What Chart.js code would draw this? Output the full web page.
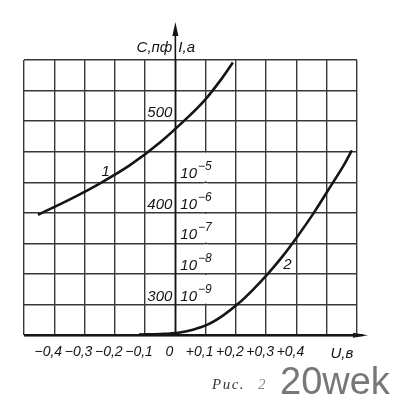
<!DOCTYPE html>
<html>
<head>
<meta charset="utf-8">
<script src="https://cdn.jsdelivr.net/npm/chart.js@4.4.0/dist/chart.umd.min.js"></script>
<style>
  html, body { margin: 0; padding: 0; background: #fff; }
  #wrap { width: 400px; height: 405px; }
</style>
</head>
<body>
<div id="wrap"><canvas id="fig" width="400" height="405"></canvas></div>
<script>
'use strict';

// ─── Values ──────────────────────────────────────────────
// curve 1: capacitance C, pF, against bias U, V
const capU = [-0.454, -0.35, -0.25, -0.15, -0.05, 0.05, 0.10, 0.15, 0.19];
const capC = [398, 414.5, 432, 452, 477, 507, 524, 545, 564];

// curve 2: current I, A, against bias U, V (log scale)
const curU = [-0.12, -0.05, 0.01, 0.058, 0.108, 0.157, 0.207, 0.256, 0.306, 0.356, 0.405, 0.455, 0.504, 0.554, 0.583];
const curI = [1.05e-10, 1.1e-10, 1.21e-10, 1.52e-10, 2.26e-10, 4.38e-10, 1.06e-9, 3.05e-9, 1.03e-8, 4.0e-8, 1.79e-7, 9.3e-7, 5.4e-6, 3.3e-5, 1.11e-4];

// ─── Ticks / grid ────────────────────────────────────────
const uGrid = [-0.5, -0.4, -0.3, -0.2, -0.1, 0, 0.1, 0.2, 0.3, 0.4, 0.5, 0.6];
const uTicks = [-0.4, -0.3, -0.2, -0.1, 0, 0.1, 0.2, 0.3, 0.4];
const uTickLabels = ['−0,4', '−0,3', '−0,2', '−0,1', '0', '+0,1', '+0,2', '+0,3', '+0,4'];
const cGrid = [800 / 3, 300, 1000 / 3, 1100 / 3, 400, 1300 / 3, 1400 / 3, 500, 1600 / 3, 1700 / 3];
const cTicks = [300, 400, 500];
const iTickExp = [-9, -8, -7, -6, -5];
const curveLabels = [
  { text: '1', u: -0.23, axis: 'yC', v: 446 },
  { text: '2', u: 0.37, axis: 'yI', v: 2.1e-8 },
];

const INK = '#151515';
const GRID = '#383838';
const LABEL_FONT = "italic 15px 'Liberation Sans', sans-serif";

// ─── Decorations: axes arrows, labels, figure caption ────
const decor = {
  id: 'decor',
  beforeDatasetsDraw(chart) {
    // the U = +0,1 grid line is broken where the I labels sit
    const { ctx: c, scales: { x, yC } } = chart;
    const px = x.getPixelForValue(0.1);
    c.save();
    c.fillStyle = '#fff';
    for (let k = 1; k < 6; k++) {
      const y1 = yC.getPixelForValue(cGrid[k]);
      const y2 = yC.getPixelForValue(cGrid[k + 1]);
      c.fillRect(px - 2, y2 + 1, 4, y1 - y2 - 2);
    }
    c.restore();
  },
  afterDraw(chart) {
    const { ctx: c, chartArea: { top, bottom, left, right }, scales: { x, yC, yI } } = chart;
    const x0 = x.getPixelForValue(0);
    c.save();
    c.strokeStyle = INK;
    c.fillStyle = INK;

    // U axis (heavy bottom line + arrow)
    c.lineWidth = 2.2;
    c.beginPath(); c.moveTo(left, bottom); c.lineTo(right + 6, bottom); c.stroke();
    c.beginPath();
    c.moveTo(right + 11, bottom); c.lineTo(right - 4, bottom - 2.5); c.lineTo(right - 4, bottom + 2.5);
    c.closePath(); c.fill();

    // vertical axis through U = 0, with arrow
    c.lineWidth = 1.6;
    c.beginPath(); c.moveTo(x0, bottom); c.lineTo(x0, top - 30); c.stroke();
    c.beginPath();
    c.moveTo(x0, top - 38); c.lineTo(x0 - 3, top - 24); c.lineTo(x0 + 3, top - 24);
    c.closePath(); c.fill();

    c.font = LABEL_FONT;
    c.textBaseline = 'alphabetic';

    // C ticks, left of the axis
    c.textAlign = 'right';
    cTicks.forEach(v => c.fillText(String(v), x0 - 3, yC.getPixelForValue(v) - 4));

    // I ticks, right of the axis: 10^n
    iTickExp.forEach(n => {
      const y = yI.getPixelForValue(Math.pow(10, n)) - 4;
      c.font = LABEL_FONT;
      c.textAlign = 'left';
      c.fillText('10', x0 + 5, y);
      const w = c.measureText('10').width;
      c.font = "italic 12px 'Liberation Sans', sans-serif";
      c.fillText('−' + Math.abs(n), x0 + 6 + w, y - 8);
    });

    // axis titles
    c.font = LABEL_FONT;
    c.textAlign = 'right';
    c.fillText('С,пф', x0 - 3, top - 8);
    c.textAlign = 'left';
    c.fillText('I,a', x0 + 3, top - 8);
    c.textAlign = 'center';
    c.fillText('U,в', x.getPixelForValue(0.55), bottom + 23);

    // curve numbers
    curveLabels.forEach(l => {
      c.fillText(l.text, x.getPixelForValue(l.u), chart.scales[l.axis].getPixelForValue(l.v) + 5);
    });

    // caption and watermark
    c.textAlign = 'left';
    c.fillStyle = '#3a3a3a';
    c.font = "italic 15px 'Liberation Serif', serif";
    c.letterSpacing = '1.5px';
    c.fillText('Рис.', 212, 389);
    c.fillStyle = '#8a8a8a';
    c.fillText('2', 258, 389);
    c.letterSpacing = '0px';
    c.fillStyle = '#777';
    c.font = "38px 'Liberation Sans', Arial, sans-serif";
    c.fillText('20wek', 280, 394);
    c.restore();
  },
};

// ─── Chart ───────────────────────────────────────────────
const ctx = document.getElementById('fig').getContext('2d');

new Chart(ctx, {
  type: 'line',
  data: {
    datasets: [
      {
        label: 'C',
        data: capU.map((u, i) => ({ x: u, y: capC[i] })),
        yAxisID: 'yC',
        borderColor: INK,
        borderWidth: 2.6,
        pointRadius: 0,
        tension: 0.35,
      },
      {
        label: 'I',
        data: curU.map((u, i) => ({ x: u, y: curI[i] })),
        yAxisID: 'yI',
        borderColor: INK,
        borderWidth: 2.6,
        pointRadius: 0,
        tension: 0.35,
      },
    ],
  },
  options: {
    responsive: false,
    animation: false,
    devicePixelRatio: 1,
    layout: { padding: { left: 24, right: 43, top: 60, bottom: 35 } },
    scales: {
      x: {
        type: 'linear',
        min: -0.5,
        max: 0.6,
        afterBuildTicks: s => { s.ticks = uGrid.map(v => ({ value: v })); },
        ticks: {
          autoSkip: false,
          maxRotation: 0,
          padding: 9,
          labelOffset: -6,
          color: INK,
          font: { family: "'Liberation Sans', sans-serif", size: 14, style: 'italic' },
          callback: v => {
            const i = uTicks.findIndex(t => Math.abs(t - v) < 1e-6);
            return i >= 0 ? uTickLabels[i] : '';
          },
        },
        grid: { color: GRID, lineWidth: 1.4, drawTicks: false },
        border: { display: false },
      },
      yC: {
        type: 'linear',
        position: 'left',
        min: 800 / 3,
        max: 1700 / 3,
        afterBuildTicks: s => { s.ticks = cGrid.map(v => ({ value: v })); },
        ticks: { display: false },
        grid: { color: GRID, lineWidth: 1.4, drawTicks: false },
        border: { display: false },
      },
      yI: {
        type: 'logarithmic',
        position: 'right',
        min: 1e-10,
        max: 1e-1,
        display: false,
      },
    },
    plugins: {
      legend: { display: false },
      tooltip: { enabled: false },
    },
  },
  plugins: [decor],
});
</script>
</body>
</html>
